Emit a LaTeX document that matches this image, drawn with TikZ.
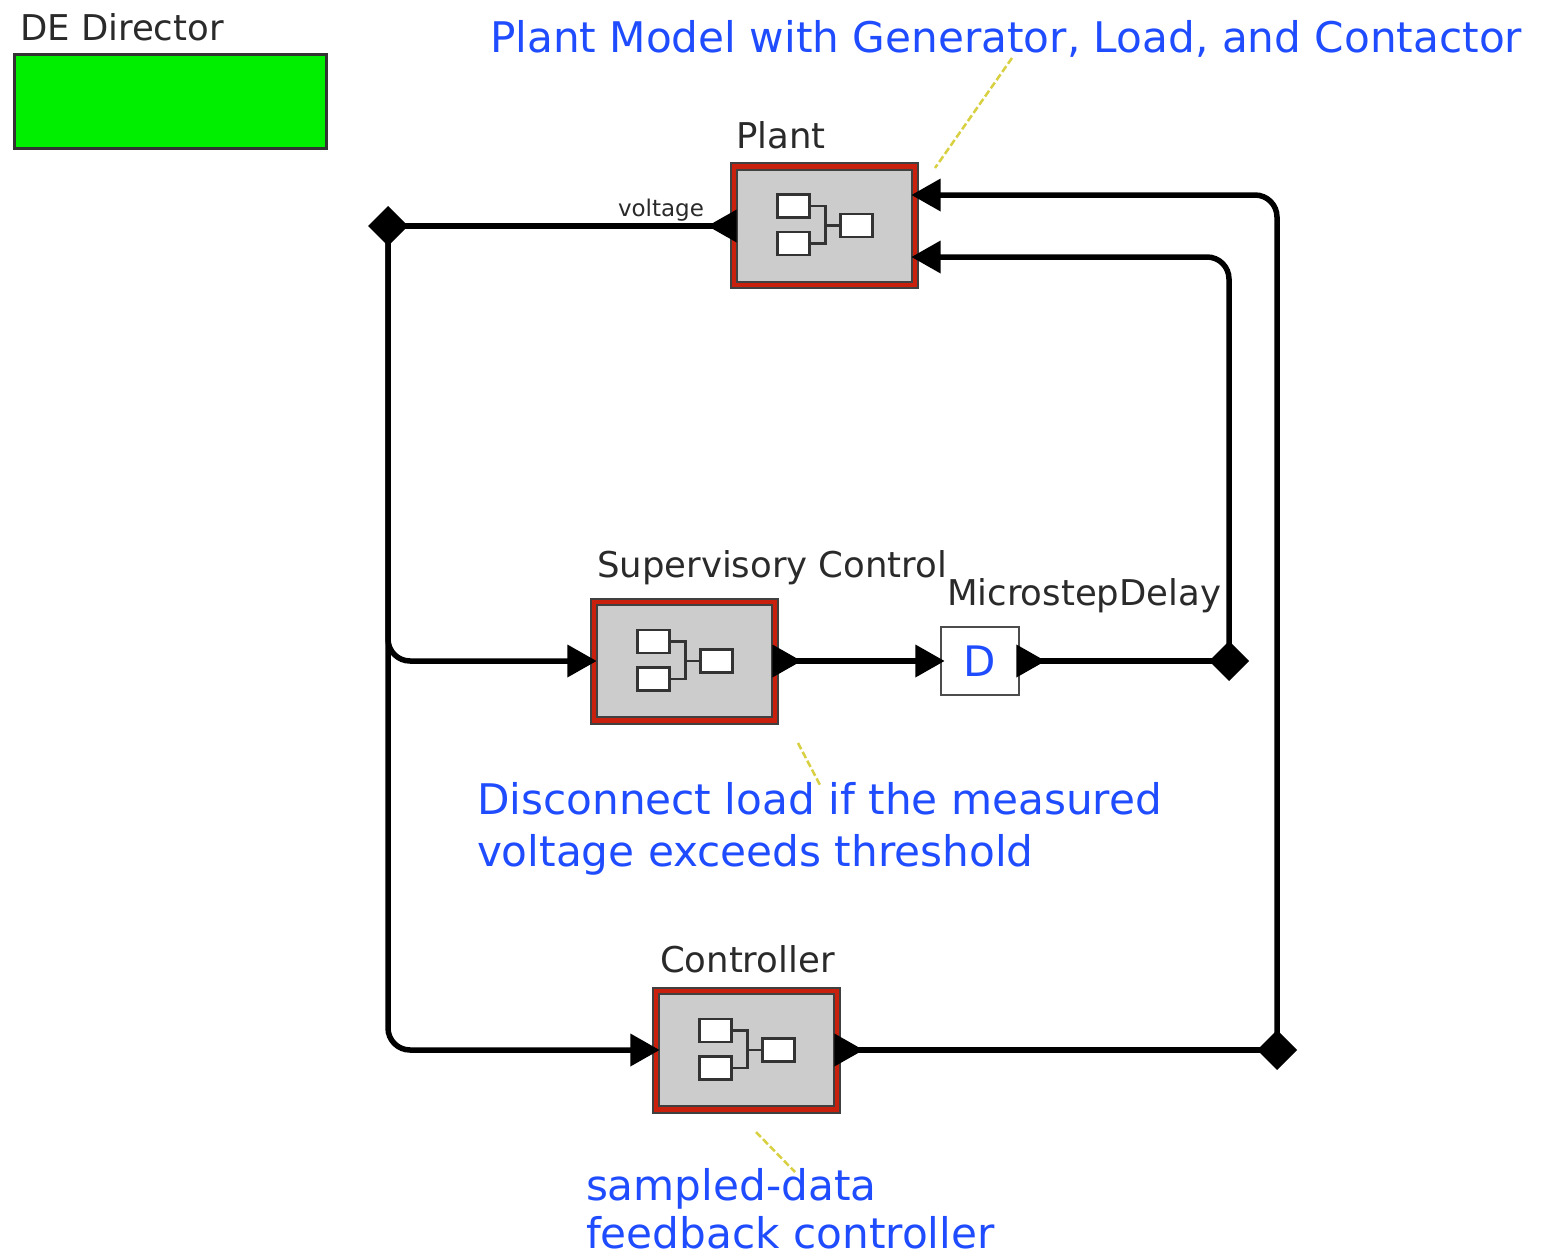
\documentclass[tikz,border=0pt]{standalone}
\usepackage{fontspec}
\setmainfont{DejaVu Sans}
\usetikzlibrary{shapes.geometric}
\definecolor{noteblue}{HTML}{1F4CFF}
\definecolor{labelgray}{HTML}{2A2A2A}
\definecolor{actorred}{HTML}{C8200C}
\definecolor{actorgray}{HTML}{CCCCCC}
\definecolor{dirgreen}{HTML}{00EE00}
\definecolor{noteline}{HTML}{D8D040}
\tikzset{
  x=1pt,y=-1pt,
  every node/.style={inner sep=0,outer sep=0},
  outerbox/.style={draw=black!75,line width=2pt,fill=actorred,minimum width=187pt,minimum height=125pt},
  innerbox/.style={draw=black!75,line width=2pt,fill=actorgray,minimum width=175pt,minimum height=112pt},
  iconbox/.style={draw=black!80,line width=2.5pt,fill=white,minimum width=32pt,minimum height=23pt},
  iconwire/.style={draw=black!80,line width=2.5pt},
  wire/.style={draw=black,line width=5.5pt,rounded corners=22pt},
  portleft/.style={fill=black,isosceles triangle,isosceles triangle stretches,shape border rotate=180,minimum width=33pt,minimum height=29pt},
  portright/.style={fill=black,isosceles triangle,isosceles triangle stretches,minimum width=33pt,minimum height=29pt},
  junction/.style={fill=black,diamond,minimum width=40pt,minimum height=40pt},
  note/.style={text=noteblue,anchor=base west,align=left,font=\fontsize{42.2}{52}\selectfont},
  lab/.style={text=labelgray,anchor=base west,font=\fontsize{35.5}{40}\selectfont},
  annot/.style={draw=noteline,line width=2.5pt,dash pattern=on 7pt off 3pt},
}
\newcommand{\actorblock}[3]{%
  \node[outerbox] (#1) at (#2,#3) {};
  \node[innerbox] (#1i) at (#2,#3) {};
  \node[iconbox] (#1a) at ([xshift=-31pt,yshift=19.5pt]#1.center) {};
  \node[iconbox] (#1b) at ([xshift=-31pt,yshift=-18pt]#1.center) {};
  \node[iconbox] (#1c) at ([xshift=32pt,yshift=0pt]#1.center) {};
  \coordinate (#1m) at ([xshift=1pt]#1.center);
  \draw[iconwire] (#1a.east) -| (#1m);
  \draw[iconwire] (#1b.east) -| (#1m);
  \draw[iconwire] (#1m) -- (#1c.west);
}
\begin{document}
\begin{tikzpicture}
\useasboundingbox (0,0) rectangle (1559,1258);
\fill[white] (0,0) rectangle (1559,1258);
% director
\node[draw=black!80,line width=3pt,fill=dirgreen,minimum width=312pt,minimum height=94pt] (dir) at (170.5,101.5) {};
\node[lab] (dirl) at (20,40) {DE Director};
% annotations' texts
\node[note] (n1) at (490,52) {Plant Model with Generator, Load, and Contactor};
\node[note] (n2) at (477,866) {Disconnect load if the measured\\voltage exceeds threshold};
\node[note,font=\fontsize{42.2}{48}\selectfont] (n3) at (586,1248) {sampled-data\\feedback controller};
% actors
\actorblock{plant}{824.5}{225.5}
\actorblock{sup}{684.5}{661}
\actorblock{ctl}{746.5}{1050}
\node[lab] (plantl) at (736,148) {Plant};
\node[lab] (supl) at (597,577) {Supervisory Control};
\node[lab] (ctll) at (660,972) {Controller};
\node[lab] (dell) at (947,605) {MicrostepDelay};
\node[lab,font=\fontsize{23}{28}\selectfont] (volt) at (618,216) {voltage};
% delay
\node[draw=black!70,line width=2.5pt,fill=white,minimum width=78pt,minimum height=68pt,text=noteblue,font=\fontsize{42}{42}\selectfont] (del) at (980,661) {D};
% ports
\node[portleft] (pin1) at (931,195) {};
\node[portleft] (pin2) at (931,257) {};
\node[portleft] (pout) at (727,226) {};
\node[portright] (sin) at (577,661) {};
\node[portright] (sout) at (782,661) {};
\node[portright] (din) at (925,661) {};
\node[portright] (dout) at (1026,661) {};
\node[portright] (cin) at (640,1050) {};
\node[portright] (cout) at (844,1050) {};
% junctions
\node[junction] (j1) at (388,226) {};
\node[junction] (j2) at (1229,661) {};
\node[junction] (j3) at (1277,1050) {};
% wires
\draw[wire] (j1.center) -- (pout.center);
\draw[wire] (j1.center) |- (sin.center);
\draw[wire] (j1.center) |- (cin.center);
\draw[wire] (sout.center) -- (din.center);
\draw[wire] (dout.center) -- (j2.center);
\draw[wire] (j2.center) |- (pin2.center);
\draw[wire] (cout.center) -- (j3.center);
\draw[wire] (j3.center) |- (pin1.center);
% annotation lines
\coordinate (a1) at (1012,58);
\coordinate (a1e) at (935,168);
\coordinate (a2) at (798,743);
\coordinate (a2e) at (820,785);
\coordinate (a3) at (756,1132);
\coordinate (a3e) at (795,1172);
\draw[annot] (a1) -- (a1e);
\draw[annot] (a2) -- (a2e);
\draw[annot] (a3) -- (a3e);
\end{tikzpicture}
\end{document}
